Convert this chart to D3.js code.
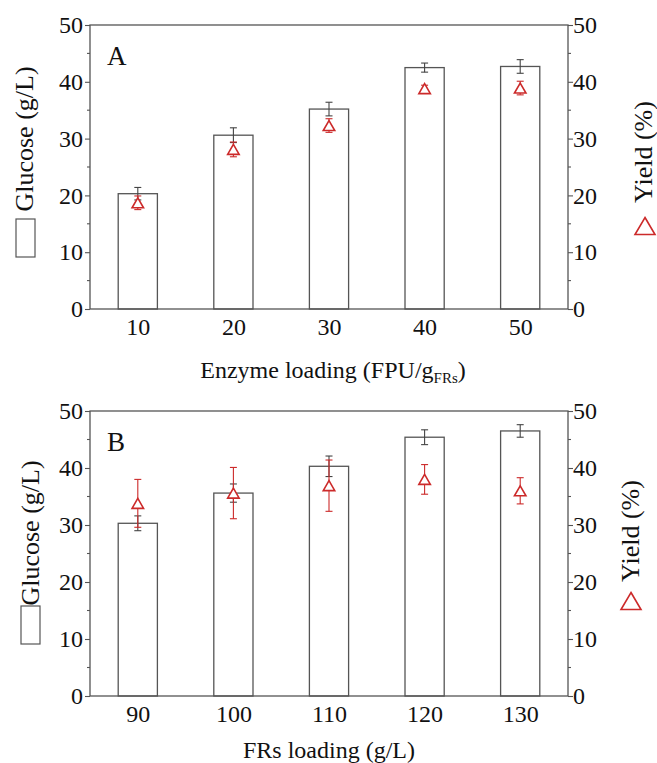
<!DOCTYPE html>
<html><head><meta charset="utf-8">
<script src="https://cdn.jsdelivr.net/npm/d3@7/dist/d3.min.js"></script>
<style>
html,body{margin:0;padding:0;background:#fff;}
svg text{font-family:"Liberation Serif","Times New Roman","DejaVu Serif",serif !important;fill:#111;}
</style></head>
<body>
<svg id="chart" width="657" height="763"></svg>
<script>
// Panel A data
const enzymeLoading = [10, 20, 30, 40, 50];
const glucoseA = [20.3, 30.6, 35.2, 42.5, 42.7];
const glucoseErrA = [1.1, 1.3, 1.2, 0.8, 1.2];
const yieldA = [18.7, 28.1, 32.3, 38.8, 38.9];
const yieldErrA = [1.2, 1.3, 1.2, 0.6, 1.2];
// Panel B data
const frsLoading = [90, 100, 110, 120, 130];
const glucoseB = [30.3, 35.6, 40.3, 45.4, 46.5];
const glucoseErrB = [1.3, 1.6, 1.8, 1.3, 1.1];
const yieldB = [33.8, 35.6, 36.9, 38.0, 36.0];
const yieldErrB = [4.2, 4.5, 4.5, 2.6, 2.3];
// Axis ticks
const yTicks = [0, 10, 20, 30, 40, 50];
const yMinorTicks = [5, 15, 25, 35, 45];

const svg = d3.select("#chart");
const axisColor = "#555";
const red = "#cc2a2a";
const tickFont = 24;
const labelFont = 24;
const rotFont = 26;

function triPath(cx, cy, w, h) {
  return `M${cx},${cy - h/2}L${cx + w/2},${cy + h/2}L${cx - w/2},${cy + h/2}Z`;
}

function panel(opt) {
  const g = svg.append("g");
  const x = d3.scaleLinear().domain(opt.xDomain).range([90, 568]);
  const y = d3.scaleLinear().domain([0, 50]).range([opt.bottom, opt.top]);
  const y2 = d3.scaleLinear().domain([0, 50]).range([opt.bottom, opt.top]);
  const halfW = 2.05;

  g.selectAll("rect.bar").data(opt.cats).enter().append("rect")
    .attr("x", d => x(d - halfW))
    .attr("width", d => x(d + halfW) - x(d - halfW))
    .attr("y", (d, i) => y(opt.glucose[i]))
    .attr("height", (d, i) => y(0) - y(opt.glucose[i]))
    .attr("fill", "#fff").attr("stroke", axisColor).attr("stroke-width", 1.3);

  const ge = g.append("g").attr("stroke", "#444").attr("stroke-width", 1.1);
  opt.cats.forEach((c, i) => {
    const cx = x(c), hi = y(opt.glucose[i] + opt.gErr[i]), lo = y(opt.glucose[i] - opt.gErr[i]);
    ge.append("line").attr("x1", cx).attr("x2", cx).attr("y1", hi).attr("y2", lo);
    ge.append("line").attr("x1", cx - 3.5).attr("x2", cx + 3.5).attr("y1", hi).attr("y2", hi);
    ge.append("line").attr("x1", cx - 3.5).attr("x2", cx + 3.5).attr("y1", lo).attr("y2", lo);
  });

  const ye = g.append("g").attr("stroke", red).attr("stroke-width", 1.1);
  opt.cats.forEach((c, i) => {
    const cx = x(c), hi = y2(opt.yield[i] + opt.yErr[i]), lo = y2(opt.yield[i] - opt.yErr[i]);
    ye.append("line").attr("x1", cx).attr("x2", cx).attr("y1", hi).attr("y2", lo);
    ye.append("line").attr("x1", cx - 3.5).attr("x2", cx + 3.5).attr("y1", hi).attr("y2", hi);
    ye.append("line").attr("x1", cx - 3.5).attr("x2", cx + 3.5).attr("y1", lo).attr("y2", lo);
  });

  g.selectAll("path.tri").data(opt.cats).enter().append("path")
    .attr("d", (d, i) => triPath(x(d), y2(opt.yield[i]), 11.5, 10))
    .attr("fill", "#fff").attr("stroke", red).attr("stroke-width", 1.6);

  g.append("rect").attr("x", x.range()[0]).attr("y", opt.top)
    .attr("width", x.range()[1] - x.range()[0]).attr("height", opt.bottom - opt.top)
    .attr("fill", "none").attr("stroke", axisColor).attr("stroke-width", 1.3);

  const left = d3.axisLeft(y).tickValues(yTicks).tickSize(5).tickPadding(2);
  const gl = g.append("g").attr("transform", `translate(${x.range()[0]},0)`).call(left);
  gl.append("g").selectAll("line").data(yMinorTicks).enter().append("line")
    .attr("x1", 0).attr("x2", -3).attr("y1", d => y(d)).attr("y2", d => y(d));
  const right = d3.axisRight(y2).tickValues(yTicks).tickSize(5).tickPadding(0);
  const gr = g.append("g").attr("transform", `translate(${x.range()[1]},0)`).call(right);
  gr.append("g").selectAll("line").data(yMinorTicks).enter().append("line")
    .attr("x1", 0).attr("x2", 3).attr("y1", d => y2(d)).attr("y2", d => y2(d));
  const bottom = d3.axisBottom(x).tickValues(opt.cats).tickSize(0).tickPadding(9);
  const gb = g.append("g").attr("transform", `translate(0,${opt.bottom})`).call(bottom);

  [gl, gr, gb].forEach(a => {
    a.select(".domain").remove();
    a.attr("font-family", null);
    a.selectAll("line").attr("stroke", axisColor).attr("stroke-width", 1.1);
    a.selectAll("text").attr("font-size", tickFont).attr("fill", "#111");
  });

  g.append("text").attr("x", 107).attr("y", opt.top + 40).attr("font-size", 27).text(opt.letter);

  const xl = g.append("text").attr("x", opt.xLabelX).attr("y", opt.xLabelY)
    .attr("text-anchor", "middle").attr("font-size", labelFont);
  opt.xLabel(xl);

  g.append("text").attr("transform", `translate(${opt.lLabelX},${opt.lLabelCY}) rotate(-90)`)
    .attr("text-anchor", "middle").attr("font-size", rotFont).text("Glucose (g/L)");
  g.append("rect").attr("x", opt.lBox[0]).attr("y", opt.lBox[1]).attr("width", 19).attr("height", 38)
    .attr("fill", "#fff").attr("stroke", axisColor).attr("stroke-width", 1.2);

  g.append("text").attr("transform", `translate(${opt.rLabelX},${opt.rLabelCY}) rotate(-90)`)
    .attr("text-anchor", "middle").attr("font-size", rotFont).text("Yield (%)");
  g.append("path").attr("d", triPath(opt.rTri[0], opt.rTri[1], 20, 17))
    .attr("fill", "#fff").attr("stroke", red).attr("stroke-width", 1.6);
}

panel({
  cats: enzymeLoading, glucose: glucoseA, gErr: glucoseErrA, yield: yieldA, yErr: yieldErrA,
  xDomain: [5, 55], top: 25, bottom: 309, letter: "A",
  xLabelX: 333, xLabelY: 378,
  xLabel: t => {
    t.append("tspan").text("Enzyme loading (FPU/g");
    t.append("tspan").attr("font-size", 15).attr("dy", 5).text("FRs");
    t.append("tspan").attr("dy", -5).text(")");
  },
  lLabelX: 33, lLabelCY: 139, lBox: [16, 219],
  rLabelX: 652, rLabelCY: 152, rTri: [645, 226]
});

panel({
  cats: frsLoading, glucose: glucoseB, gErr: glucoseErrB, yield: yieldB, yErr: yieldErrB,
  xDomain: [85, 135], top: 411, bottom: 696, letter: "B",
  xLabelX: 329, xLabelY: 758,
  xLabel: t => { t.text("FRs loading (g/L)"); },
  lLabelX: 39, lLabelCY: 533, lBox: [21, 606],
  rLabelX: 639, rLabelCY: 531, rTri: [631, 601]
});
</script>
</body></html>
